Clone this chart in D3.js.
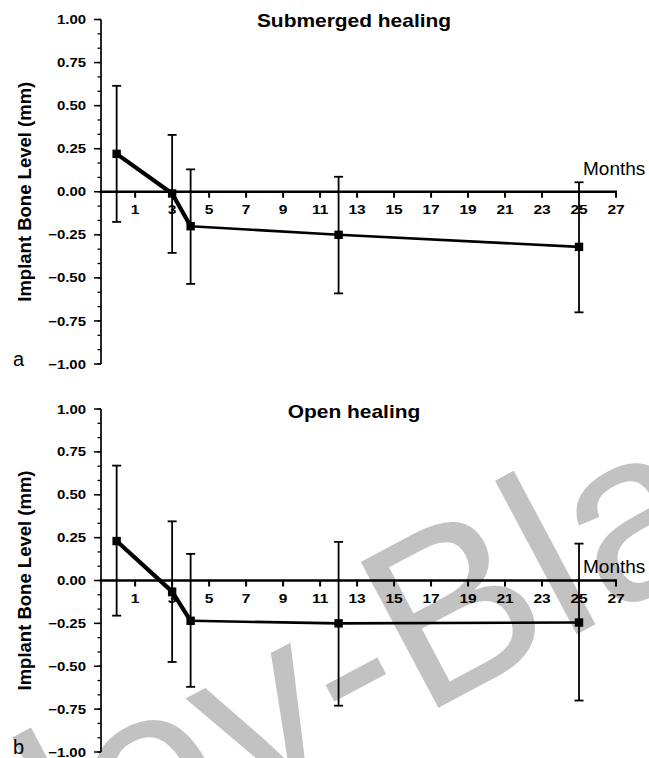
<!DOCTYPE html>
<html><head><meta charset="utf-8">
<script src="https://cdn.jsdelivr.net/npm/d3@7"></script>
<style>body{margin:0;background:#fff}svg{display:block}</style>
</head><body>
<script>
const months = [0, 3, 4, 12, 25];
const submergedMean  = [0.22, -0.01, -0.20, -0.25, -0.32];
const submergedUpper = [0.615, 0.33, 0.13, 0.087, 0.055];
const submergedLower = [-0.175, -0.355, -0.535, -0.59, -0.70];
const openMean  = [0.23, -0.065, -0.235, -0.25, -0.245];
const openUpper = [0.67, 0.345, 0.155, 0.225, 0.215];
const openLower = [-0.205, -0.475, -0.62, -0.73, -0.70];
const xTicks = [1,3,5,7,9,11,13,15,17,19,21,23,25,27];
const yTicks = [1.00, 0.75, 0.50, 0.25, 0.00, -0.25, -0.50, -0.75, -1.00];
const titles = ["Submerged healing", "Open healing"];
const panelLetters = ["a", "b"];
const yLabel = "Implant Bone Level (mm)";
const xLabel = "Months";
const watermark = "Wiley-Blackwell";

const W = 649, H = 758;
const svg = d3.select("body").append("svg").attr("width", W).attr("height", H);
const FONT = "'Liberation Sans', Arial, Helvetica, sans-serif";
const SX = 1.15;

// watermark (behind)
{
  const F = 240;
  svg.append("text")
    .attr("transform", "translate(421,717) rotate(-28)")
    .attr("x", -2.777 * F).attr("y", 0)
    .attr("font-family", FONT).attr("font-size", F)
    .attr("fill", "#c2c2c2").text(watermark);
}

const panels = [
  {title: titles[0], letter: panelLetters[0], mean: submergedMean, up: submergedUpper, lo: submergedLower, yTop: 19.5, yBot: 364, titleY: 27, monthsDy: -17},
  {title: titles[1], letter: panelLetters[1], mean: openMean, up: openUpper, lo: openLower, yTop: 409, yBot: 752, titleY: 418, monthsDy: -8}
];

const x = d3.scaleLinear().domain([-0.9, 27]).range([100, 616]);

panels.forEach(p => {
  const y = d3.scaleLinear().domain([-1, 1]).range([p.yBot, p.yTop]);
  const g = svg.append("g");
  const y0 = y(0);

  // y axis: line, minor ticks, major ticks
  g.append("line").attr("x1", 101).attr("x2", 101).attr("y1", y(1)).attr("y2", y(-1))
    .attr("stroke", "#000").attr("stroke-width", 1.7);
  const minor = d3.range(-12, 13).map(i => i / 12);
  g.selectAll(".mn").data(minor).enter().append("line")
    .attr("x1", 97.5).attr("x2", 101).attr("y1", d => y(d)).attr("y2", d => y(d))
    .attr("stroke", "#000").attr("stroke-width", 1.3);
  g.selectAll(".mj").data(yTicks).enter().append("line")
    .attr("x1", 94).attr("x2", 101).attr("y1", d => y(d)).attr("y2", d => y(d))
    .attr("stroke", "#000").attr("stroke-width", 1.5);
  g.selectAll(".yl").data(yTicks).enter().append("text")
    .attr("transform", d => `translate(86,${y(d) + 4.6}) scale(${SX},1)`)
    .attr("text-anchor", "end").attr("font-family", FONT).attr("font-weight", "bold")
    .attr("font-size", 13).text(d => d3.format(".2f")(d).replace("-", "\u2212"));

  // y label
  g.append("text")
    .attr("transform", `translate(31,${(p.yTop + p.yBot) / 2}) rotate(-90)`)
    .attr("text-anchor", "middle").attr("font-family", FONT).attr("font-weight", "bold")
    .attr("font-size", 18.5).text(yLabel);

  // x axis
  g.append("line").attr("x1", 100).attr("x2", x(27) + 1).attr("y1", y0).attr("y2", y0)
    .attr("stroke", "#000").attr("stroke-width", 2.6);
  g.selectAll(".xt").data(xTicks).enter().append("line")
    .attr("x1", d => x(d)).attr("x2", d => x(d)).attr("y1", y0).attr("y2", y0 + 6)
    .attr("stroke", "#000").attr("stroke-width", 2);
  g.selectAll(".xl").data(xTicks).enter().append("text")
    .attr("transform", d => `translate(${x(d)},${y0 + 22}) scale(${SX},1)`)
    .attr("text-anchor", "middle").attr("font-family", FONT).attr("font-weight", "bold")
    .attr("font-size", 13.5).text(d => d);

  g.append("text").attr("x", 583).attr("y", y0 + p.monthsDy)
    .attr("font-family", FONT).attr("font-size", 19).text(xLabel);

  // title
  g.append("text")
    .attr("transform", `translate(354,${p.titleY}) scale(${SX},1)`)
    .attr("text-anchor", "middle").attr("font-family", FONT).attr("font-weight", "bold")
    .attr("font-size", 18.2).text(p.title);

  // panel letter
  g.append("text").attr("x", 13).attr("y", p.yBot + 2)
    .attr("font-family", FONT).attr("font-size", 20).text(p.letter);

  // error bars
  months.forEach((m, i) => {
    const cx = x(m);
    g.append("line").attr("x1", cx).attr("x2", cx).attr("y1", y(p.up[i])).attr("y2", y(p.lo[i]))
      .attr("stroke", "#000").attr("stroke-width", 1.8);
    [p.up[i], p.lo[i]].forEach(v => {
      g.append("line").attr("x1", cx - 4.5).attr("x2", cx + 4.5).attr("y1", y(v)).attr("y2", y(v))
        .attr("stroke", "#000").attr("stroke-width", 1.8);
    });
  });

  // line segments (first two thick)
  for (let i = 0; i < months.length - 1; i++) {
    g.append("line")
      .attr("x1", x(months[i])).attr("y1", y(p.mean[i]))
      .attr("x2", x(months[i + 1])).attr("y2", y(p.mean[i + 1]))
      .attr("stroke", "#000").attr("stroke-width", i < 2 ? 4.2 : 2.6)
      .attr("stroke-linecap", "round");
  }
  // markers
  g.selectAll(".pt").data(months).enter().append("rect")
    .attr("x", d => x(d) - 4.2).attr("y", (d, i) => y(p.mean[i]) - 4.2)
    .attr("width", 8.4).attr("height", 8.4).attr("fill", "#000");
});
</script>
</body></html>
